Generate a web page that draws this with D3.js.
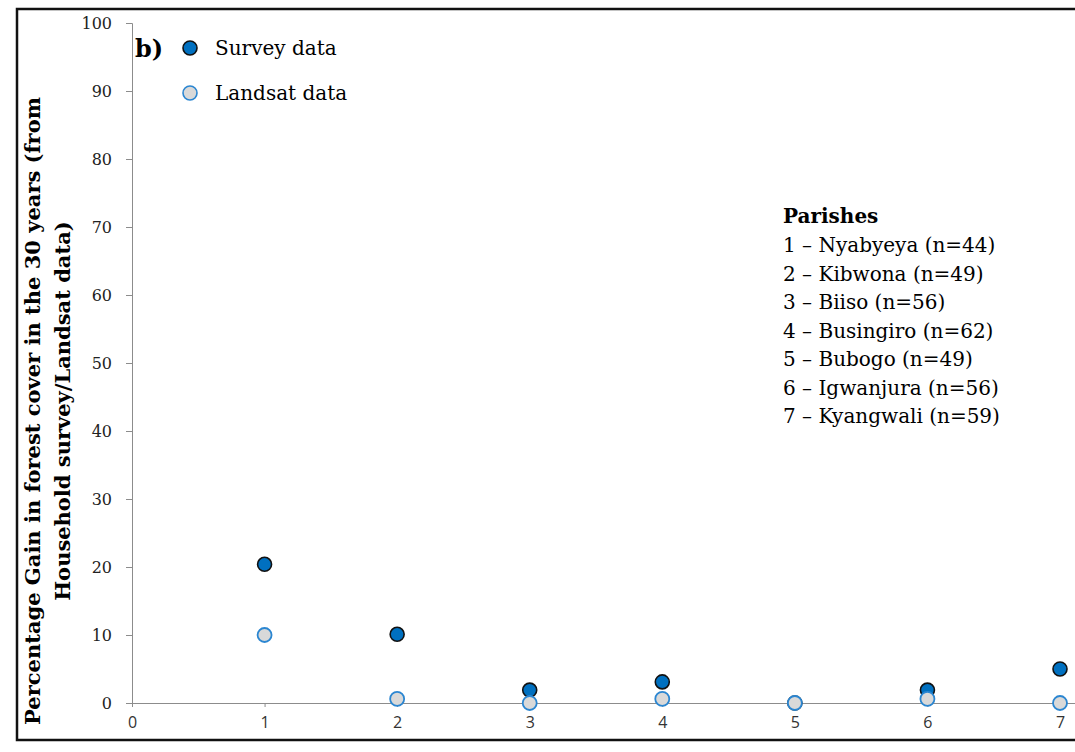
<!DOCTYPE html>
<html>
<head>
<meta charset="utf-8">
<script src="https://cdn.jsdelivr.net/npm/d3@7"></script>
<style>
  body { margin: 0; background: #fff; }
  svg { display: block; }
</style>
</head>
<body>
<svg id="chart" width="1075" height="752"></svg>
<script>
// data //
const parishIds = [1, 2, 3, 4, 5, 6, 7]
const surveyGain = [20.4, 10.1, 1.9, 3.1, 0, 1.9, 5.0]
const landsatGain = [10.0, 0.6, 0, 0.6, 0, 0.6, 0]
const yTicks = [0, 10, 20, 30, 40, 50, 60, 70, 80, 90, 100]
const xTicks = [0, 1, 2, 3, 4, 5, 6, 7]
const parishNames = [
    '1 – Nyabyeya (n=44)',
    '2 – Kibwona (n=49)',
    '3 – Biiso (n=56)',
    '4 – Busingiro (n=62)',
    '5 – Bubogo (n=49)',
    '6 – Igwanjura (n=56)',
    '7 – Kyangwali (n=59)'
]

const serif = '"DejaVu Serif", serif'
const sans = '"Open Sans", "Liberation Sans", sans-serif'

const svg = d3.select('#chart')

// frame (right side runs off the picture)
svg.append('path')
    .attr('d', 'M1080,9 H17 V740 H1080')
    .attr('fill', 'none')
    .attr('stroke', '#111')
    .attr('stroke-width', 2.5)

// scales //
const xScale = d3.scaleLinear().domain([0, 7]).range([132, 1060])
const yScale = d3.scaleLinear().domain([0, 100]).range([703, 23])

// Y axis //
const yAxis = d3.axisLeft(yScale).tickValues(yTicks).tickFormat(d3.format('d')).tickSize(6).tickPadding(14)
const gy = svg.append('g')
    .attr('transform', `translate(${xScale(0)},0)`)
    .call(yAxis)
gy.select('.domain').attr('stroke', '#8c8c8c')
gy.selectAll('.tick line').attr('stroke', '#8c8c8c')
gy.selectAll('.tick text')
    .style('font-family', serif)
    .style('font-size', '16px')
    .attr('fill', '#222')

// X axis //
const xAxis = d3.axisBottom(xScale).tickValues(xTicks).tickFormat(d3.format('d')).tickSize(4).tickPadding(10)
const gx = svg.append('g')
    .attr('transform', `translate(0,${yScale(0)})`)
    .call(xAxis)
gx.select('.domain').attr('d', `M${xScale(0)},0.5H1080`).attr('stroke', '#8c8c8c')
gx.selectAll('.tick line').attr('stroke', '#8c8c8c')
gx.selectAll('.tick text')
    .style('font-family', sans)
    .style('font-size', '16px')
    .attr('fill', '#333')

// Y axis title, two lines
const yTitle = svg.append('text')
    .attr('transform', 'translate(0,411) rotate(-90)')
    .attr('text-anchor', 'middle')
    .style('font-family', serif)
    .style('font-size', '21px')
    .style('font-weight', 'bold')
yTitle.append('tspan').attr('x', 0).attr('y', 40)
    .text('Percentage Gain in forest cover in the 30 years (from')
yTitle.append('tspan').attr('x', 0).attr('y', 70)
    .text('Household survey/Landsat data)')

// points //
svg.append('g')
    .selectAll('circle')
    .data(parishIds)
    .join('circle')
    .attr('cx', d => xScale(d))
    .attr('cy', (d, i) => yScale(surveyGain[i]))
    .attr('r', 7)
    .attr('fill', '#0070c0')
    .attr('stroke', '#111')
    .attr('stroke-width', 1.6)

svg.append('g')
    .selectAll('circle')
    .data(parishIds)
    .join('circle')
    .attr('cx', d => xScale(d))
    .attr('cy', (d, i) => yScale(landsatGain[i]))
    .attr('r', 7)
    .attr('fill', '#d9d9d9')
    .attr('stroke', '#2b86d1')
    .attr('stroke-width', 1.8)

// panel tag
svg.append('text')
    .attr('x', 135).attr('y', 57)
    .style('font-family', serif)
    .style('font-size', '24px')
    .style('font-weight', 'bold')
    .text('b)')

// legend //
const legend = [
    { label: 'Survey data', fill: '#0070c0', stroke: '#111' },
    { label: 'Landsat data', fill: '#d9d9d9', stroke: '#2b86d1' }
]
const lg = svg.append('g')
    .selectAll('g')
    .data(legend)
    .join('g')
    .attr('transform', (d, i) => `translate(190,${48 + i * 45})`)
lg.append('circle')
    .attr('r', 7)
    .attr('fill', d => d.fill)
    .attr('stroke', d => d.stroke)
    .attr('stroke-width', 1.6)
lg.append('text')
    .attr('x', 25).attr('y', 7)
    .style('font-family', serif)
    .style('font-size', '20px')
    .text(d => d.label)

// parish list //
const notes = svg.append('g').attr('transform', 'translate(783,223)')
notes.append('text')
    .style('font-family', serif)
    .style('font-size', '20px')
    .style('font-weight', 'bold')
    .text('Parishes')
notes.selectAll('text.item')
    .data(parishNames)
    .join('text')
    .attr('class', 'item')
    .attr('y', (d, i) => 29 + i * 28.5)
    .style('font-family', serif)
    .style('font-size', '20px')
    .text(d => d)
</script>
</body>
</html>
